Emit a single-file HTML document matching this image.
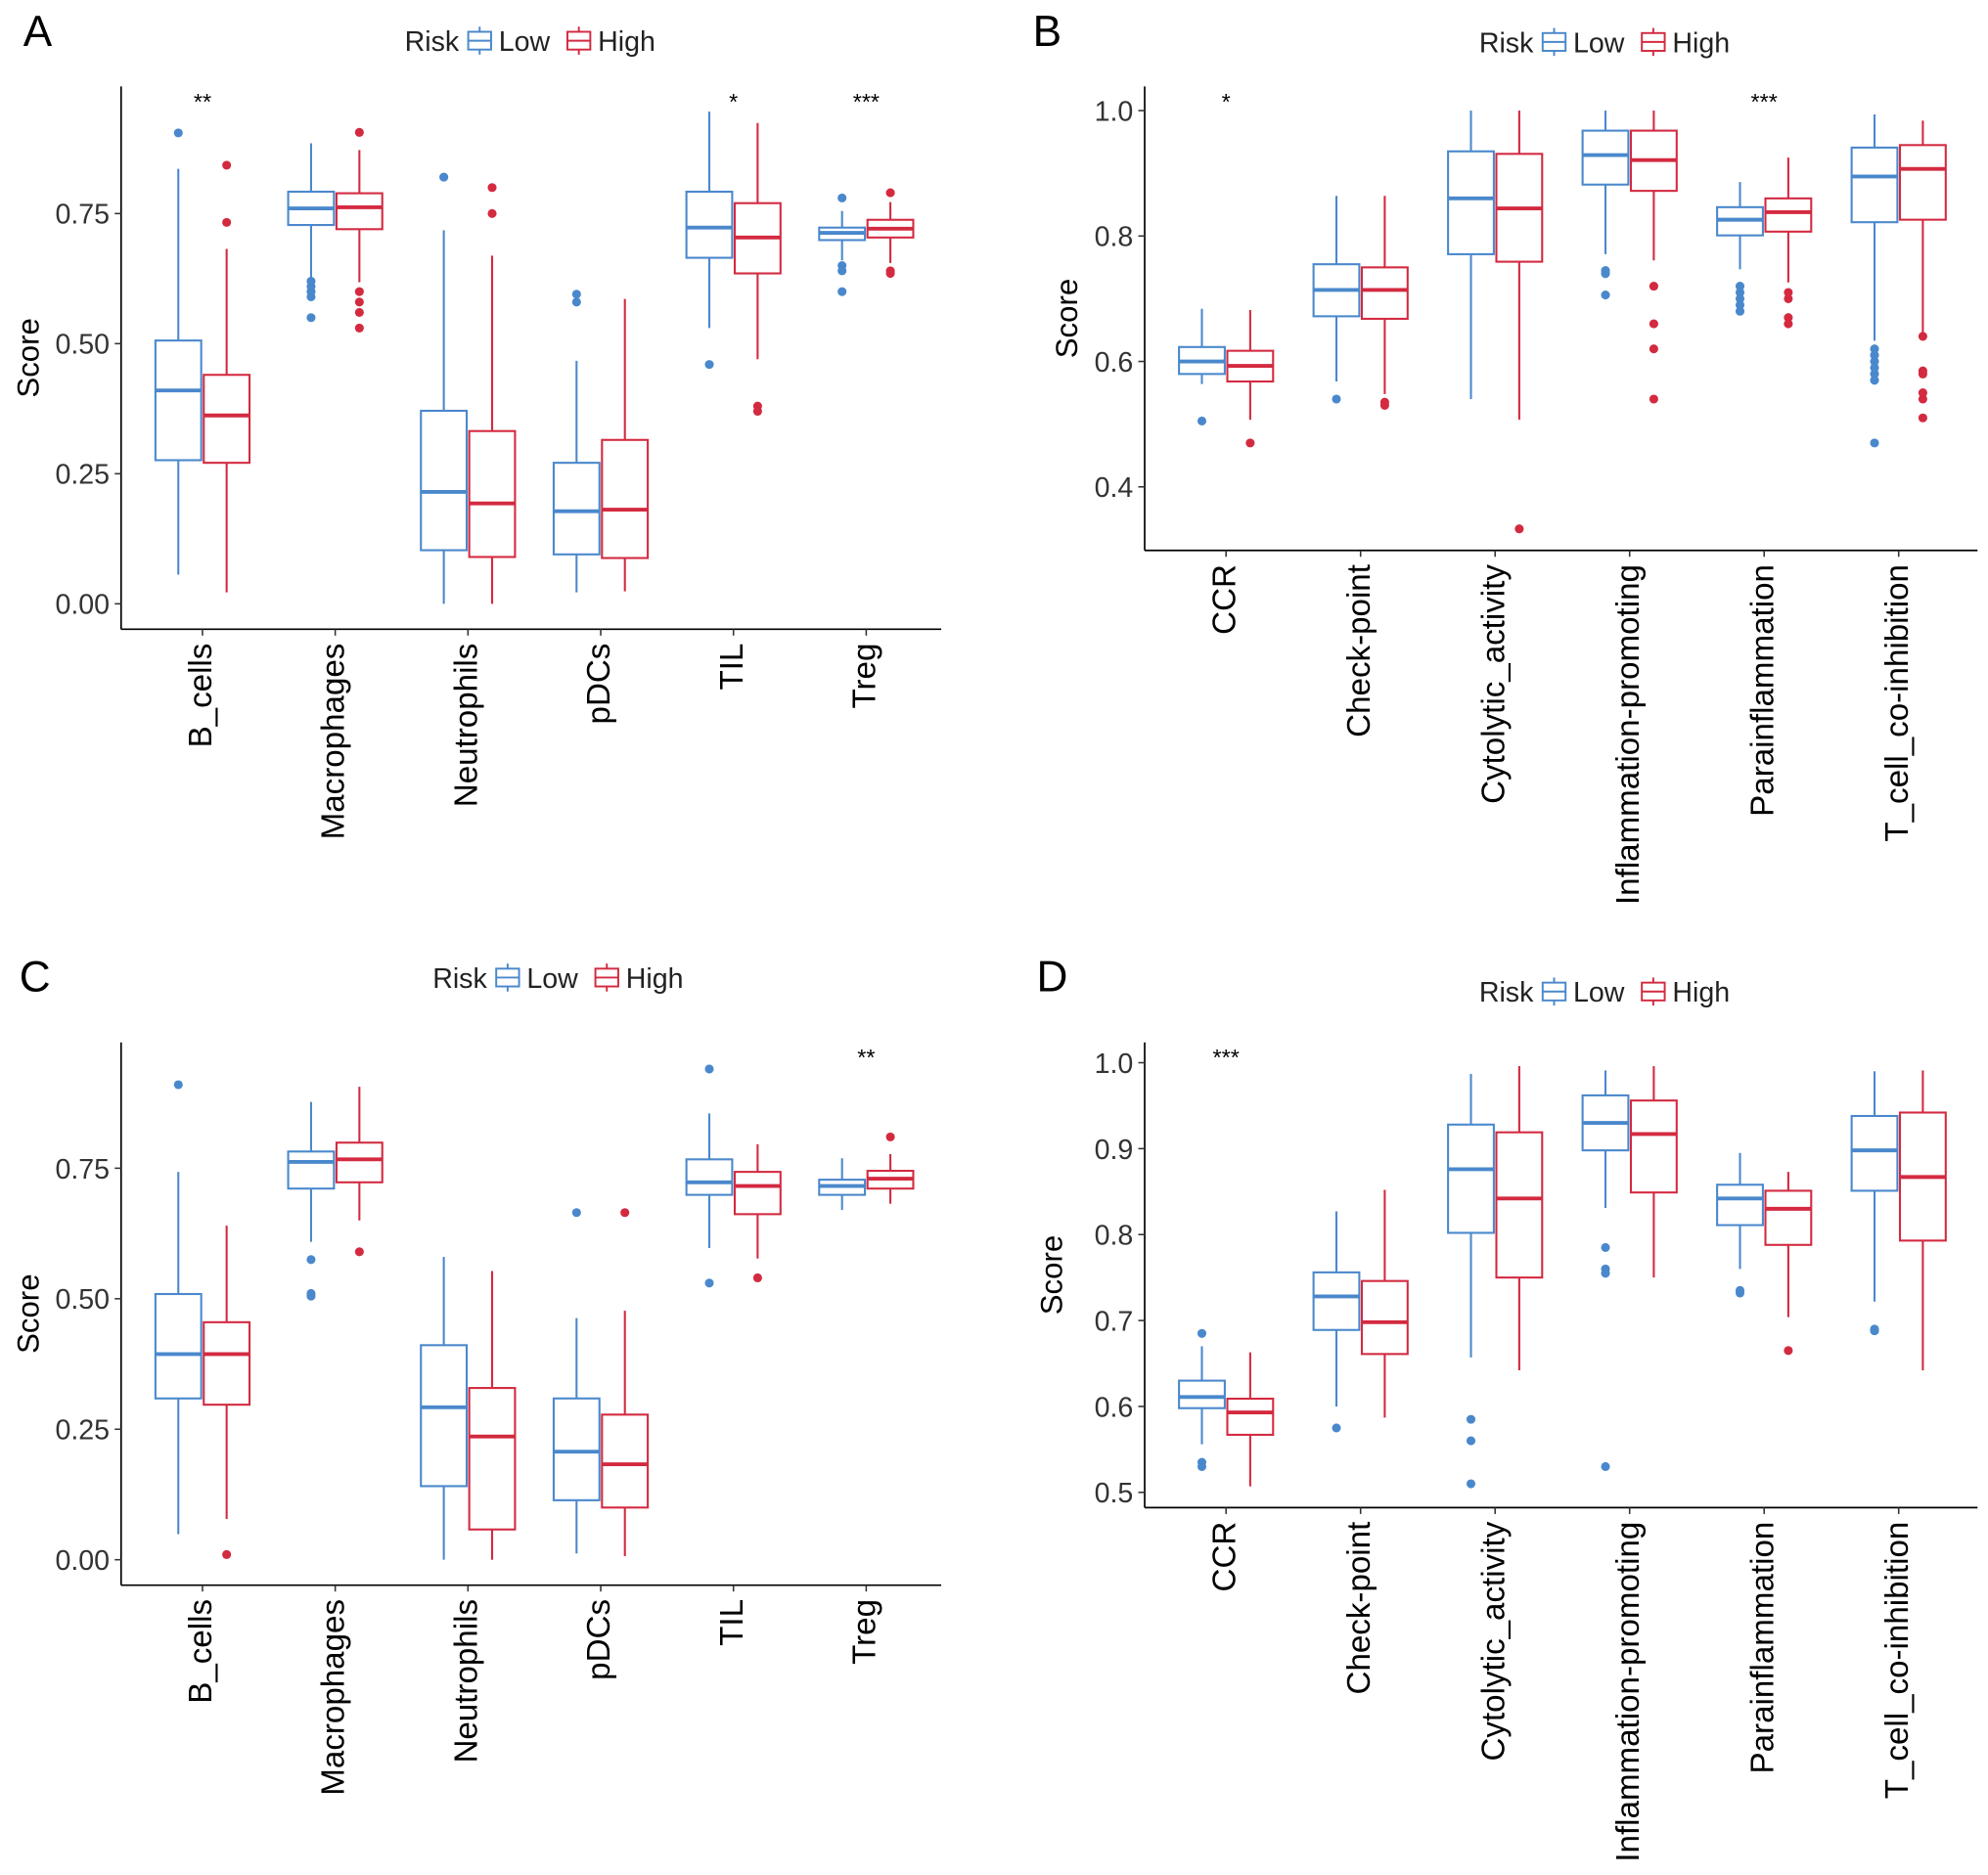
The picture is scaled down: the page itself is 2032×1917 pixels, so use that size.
<!DOCTYPE html>
<html><head><meta charset="utf-8">
<style>
html,body{margin:0;padding:0;background:#fff;}
svg{display:block;font-family:"Liberation Sans",Arial,sans-serif;}
</style></head>
<body>
<svg id="fig" width="2032" height="1917" viewBox="0 0 1563 1475" xmlns="http://www.w3.org/2000/svg"></svg>
<script>
// ---------- Panel A data ----------
const catsA = ["B_cells","Macrophages","Neutrophils","pDCs","TIL","Treg"];
const lowMinA = [0.056,0.623,0.0,0.022,0.53,0.66];
const lowQ1A  = [0.276,0.728,0.103,0.095,0.665,0.699];
const lowMedA = [0.41,0.76,0.215,0.178,0.723,0.713];
const lowQ3A  = [0.506,0.792,0.371,0.271,0.792,0.723];
const lowMaxA = [0.836,0.885,0.718,0.467,0.946,0.755];
const lowOutA = [[0.905],[0.62,0.61,0.60,0.59,0.55],[0.82],[0.58,0.595],[0.46],[0.60,0.64,0.65,0.78]];
const highMinA = [0.022,0.618,0.0,0.024,0.47,0.655];
const highQ1A  = [0.271,0.72,0.09,0.088,0.635,0.704];
const highMedA = [0.362,0.762,0.193,0.181,0.704,0.721];
const highQ3A  = [0.44,0.789,0.332,0.315,0.77,0.738];
const highMaxA = [0.682,0.872,0.669,0.586,0.924,0.772];
const highOutA = [[0.733,0.843],[0.906,0.60,0.58,0.56,0.53],[0.75,0.80],[],[0.38,0.37],[0.79,0.64,0.635]];
const sigA = ["**","","","","*","***"];
const ticksA = [0,0.25,0.5,0.75];
const tickLabA = ["0.00","0.25","0.50","0.75"];

// ---------- Panel B data ----------
const catsB = ["CCR","Check-point","Cytolytic_activity","Inflammation-promoting","Parainflammation","T_cell_co-inhibition"];
const lowMinB = [0.564,0.568,0.54,0.771,0.747,0.633];
const lowQ1B  = [0.58,0.672,0.771,0.882,0.801,0.822];
const lowMedB = [0.60,0.714,0.86,0.929,0.826,0.895];
const lowQ3B  = [0.623,0.755,0.935,0.968,0.846,0.941];
const lowMaxB = [0.684,0.864,1.0,1.0,0.886,0.994];
const lowOutB = [[0.505],[0.54],[],[0.745,0.74,0.706],[0.72,0.71,0.70,0.69,0.68],[0.62,0.61,0.60,0.59,0.58,0.57,0.47]];
const highMinB = [0.507,0.548,0.507,0.761,0.726,0.643];
const highQ1B  = [0.568,0.668,0.759,0.872,0.807,0.826];
const highMedB = [0.593,0.714,0.844,0.921,0.838,0.907];
const highQ3B  = [0.617,0.75,0.931,0.968,0.86,0.945];
const highMaxB = [0.682,0.864,1.0,1.0,0.925,0.984];
const highOutB = [[0.47],[0.53,0.535],[0.333],[0.72,0.66,0.62,0.54],[0.71,0.70,0.67,0.66],[0.64,0.585,0.58,0.55,0.54,0.51]];
const sigB = ["*","","","","***",""];
const ticksB = [0.4,0.6,0.8,1.0];
const tickLabB = ["0.4","0.6","0.8","1.0"];

// ---------- Panel C data ----------
const catsC = catsA;
const lowMinC = [0.049,0.609,0.0,0.012,0.597,0.67];
const lowQ1C  = [0.309,0.711,0.141,0.114,0.699,0.699];
const lowMedC = [0.394,0.762,0.292,0.207,0.723,0.716];
const lowQ3C  = [0.509,0.782,0.411,0.309,0.767,0.728];
const lowMaxC = [0.743,0.877,0.58,0.463,0.855,0.769];
const lowOutC = [[0.91],[0.575,0.51,0.505],[],[0.665],[0.94,0.53],[]];
const highMinC = [0.078,0.65,0.0,0.007,0.577,0.682];
const highQ1C  = [0.297,0.723,0.058,0.1,0.662,0.711];
const highMedC = [0.394,0.767,0.236,0.183,0.716,0.73];
const highQ3C  = [0.455,0.799,0.329,0.278,0.743,0.745];
const highMaxC = [0.64,0.906,0.553,0.477,0.796,0.777];
const highOutC = [[0.01],[0.59],[],[0.665],[0.54],[0.81]];
const sigC = ["","","","","","**"];
const ticksC = ticksA, tickLabC = tickLabA;

// ---------- Panel D data ----------
const catsD = catsB;
const lowMinD = [0.556,0.6,0.657,0.831,0.76,0.722];
const lowQ1D  = [0.598,0.689,0.802,0.898,0.811,0.851];
const lowMedD = [0.611,0.728,0.876,0.93,0.842,0.898];
const lowQ3D  = [0.63,0.756,0.928,0.962,0.858,0.938];
const lowMaxD = [0.67,0.827,0.987,0.991,0.895,0.99];
const lowOutD = [[0.685,0.535,0.53],[0.575],[0.585,0.56,0.51],[0.785,0.76,0.755,0.53],[0.735,0.732],[0.69,0.688]];
const highMinD = [0.507,0.587,0.642,0.75,0.704,0.642];
const highQ1D  = [0.567,0.661,0.75,0.849,0.788,0.793];
const highMedD = [0.593,0.698,0.842,0.917,0.83,0.867];
const highQ3D  = [0.609,0.746,0.919,0.956,0.851,0.942];
const highMaxD = [0.663,0.852,0.996,0.996,0.873,0.991];
const highOutD = [[],[],[],[],[0.665],[]];
const sigD = ["***","","","","",""];
const ticksD = [0.5,0.6,0.7,0.8,0.9,1.0];
const tickLabD = ["0.5","0.6","0.7","0.8","0.9","1.0"];

const BLUE = "#4a88cc", RED = "#d32a40";
const NS = "http://www.w3.org/2000/svg";
const svg = document.getElementById("fig");
function mk(tag, attrs, parent, text){
  const e = document.createElementNS(NS, tag);
  for (const k in attrs) e.setAttribute(k, attrs[k]);
  if (text !== undefined) e.textContent = text;
  (parent || svg).appendChild(e);
  return e;
}

function panel(cfg){
  const g = mk("g", {});
  
  
  const yScale = v => cfg.y0pix + (v - cfg.v0) * (cfg.y1pix - cfg.y0pix) / (cfg.v1 - cfg.v0);
  const xCat = i => cfg.xFirst + i * cfg.xStep;
  const L = mk("text", {x:cfg.lx, y:cfg.ly, "font-size":34, fill:"#000"}, g, cfg.letter);
  
  
  const lg = mk("g", {}, g);
  
  
  const t1 = mk("text", {x:cfg.legX, y:cfg.legY, "font-size":22, fill:"#222"}, lg, "Risk");
  
  
  const keys = [["Low",BLUE,cfg.legX+50],["High",RED,cfg.legX+128]];
  keys.forEach(k=>{
    const kg = mk("g", {}, lg);
    
    
    const kx = k[2], ky = cfg.legY - 8;
    mk("line", {x1:kx+9, x2:kx+9, y1:ky-11, y2:ky+11, stroke:k[1], "stroke-width":1.5}, kg);
    mk("rect", {x:kx, y:ky-7, width:18, height:14, fill:"#fff", stroke:k[1], "stroke-width":1.5}, kg);
    mk("line", {x1:kx, x2:kx+18, y1:ky, y2:ky, stroke:k[1], "stroke-width":1.5}, kg);
    mk("text", {x:kx+24, y:cfg.legY, "font-size":22, fill:"#222"}, kg, k[0]);
  });
  const ax = mk("line", {x1:cfg.axL, x2:cfg.axL, y1:cfg.axT, y2:cfg.axB, stroke:"#000", "stroke-width":1.3}, g);
  
  
  const bx = mk("line", {x1:cfg.axL, x2:cfg.axR, y1:cfg.axB, y2:cfg.axB, stroke:"#000", "stroke-width":1.3}, g);
  
  
  cfg.ticks.forEach((t,i)=>{
    const y = yScale(t);
    mk("line", {x1:cfg.axL-5, x2:cfg.axL, y1:y, y2:y, stroke:"#333", "stroke-width":1.2}, g);
    const tl = mk("text", {x:cfg.axL-9, y:y+8, "font-size":22, fill:"#333", "text-anchor":"end"}, g, cfg.tickLab[i]);
    
    
  });
  const yt = mk("text", {x:0, y:0, "font-size":24, fill:"#000", "text-anchor":"middle", transform:`translate(${cfg.titleX},${(cfg.axT+cfg.axB)/2}) rotate(-90)`}, g, "Score");
  
  
  cfg.cats.forEach((c,i)=>{
    const x = xCat(i);
    mk("line", {x1:x, x2:x, y1:cfg.axB, y2:cfg.axB+5, stroke:"#333", "stroke-width":1.2}, g);
    const cl = mk("text", {x:0, y:0, "font-size":25.5, fill:"#000", "text-anchor":"end", transform:`translate(${x+7},${cfg.axB+11}) rotate(-90)`}, g, c);
    
    
    if (cfg.sig[i]) {
      const s = mk("text", {x:x, y:cfg.axT+18, "font-size":18, fill:"#000", "text-anchor":"middle"}, g, cfg.sig[i]);
      
      
    }
    [["low",BLUE,-19,cfg.low],["high",RED,19,cfg.high]].forEach(s=>{
      const d = s[3], bxc = x + s[2], w = 36;
      const bg = mk("g", {}, g);
      
      
      mk("line", {x1:bxc, x2:bxc, y1:yScale(d.max[i]), y2:yScale(d.q3[i]), stroke:s[1], "stroke-width":1.6}, bg);
      mk("line", {x1:bxc, x2:bxc, y1:yScale(d.q1[i]), y2:yScale(d.min[i]), stroke:s[1], "stroke-width":1.6}, bg);
      mk("rect", {x:bxc-w/2, y:yScale(d.q3[i]), width:w, height:yScale(d.q1[i])-yScale(d.q3[i]), fill:"#fff", stroke:s[1], "stroke-width":1.6}, bg);
      mk("line", {x1:bxc-w/2, x2:bxc+w/2, y1:yScale(d.med[i]), y2:yScale(d.med[i]), stroke:s[1], "stroke-width":3}, bg);
      d.out[i].forEach(o=>{
        const p = mk("circle", {cx:bxc, cy:yScale(o), r:3.5, fill:s[1]}, bg);
        
        
      });
    });
  });
}

panel({letter:"A", lx:18, ly:36, legX:318, legY:40,
  axL:95, axR:740, axT:68, axB:495, titleX:30,
  v0:0, v1:0.75, y0pix:475, y1pix:168, xFirst:159, xStep:104.4,
  cats:catsA, ticks:ticksA, tickLab:tickLabA, sig:sigA,
  low:{min:lowMinA,q1:lowQ1A,med:lowMedA,q3:lowQ3A,max:lowMaxA,out:lowOutA},
  high:{min:highMinA,q1:highQ1A,med:highMedA,q3:highQ3A,max:highMaxA,out:highOutA}});
panel({letter:"B", lx:812, ly:36, legX:1163, legY:41,
  axL:900, axR:1555, axT:68, axB:433, titleX:847,
  v0:0.4, v1:1.0, y0pix:383, y1pix:87, xFirst:964, xStep:105.8,
  cats:catsB, ticks:ticksB, tickLab:tickLabB, sig:sigB,
  low:{min:lowMinB,q1:lowQ1B,med:lowMedB,q3:lowQ3B,max:lowMaxB,out:lowOutB},
  high:{min:highMinB,q1:highQ1B,med:highMedB,q3:highQ3B,max:highMaxB,out:highOutB}});
panel({letter:"C", lx:15, ly:780, legX:340, legY:777,
  axL:95, axR:740, axT:820, axB:1247, titleX:30,
  v0:0, v1:0.75, y0pix:1227, y1pix:919, xFirst:159, xStep:104.4,
  cats:catsC, ticks:ticksC, tickLab:tickLabC, sig:sigC,
  low:{min:lowMinC,q1:lowQ1C,med:lowMedC,q3:lowQ3C,max:lowMaxC,out:lowOutC},
  high:{min:highMinC,q1:highQ1C,med:highMedC,q3:highQ3C,max:highMaxC,out:highOutC}});
panel({letter:"D", lx:815, ly:780, legX:1163, legY:788,
  axL:900, axR:1555, axT:820, axB:1186, titleX:835,
  v0:0.5, v1:1.0, y0pix:1174, y1pix:836, xFirst:964, xStep:105.8,
  cats:catsD, ticks:ticksD, tickLab:tickLabD, sig:sigD,
  low:{min:lowMinD,q1:lowQ1D,med:lowMedD,q3:lowQ3D,max:lowMaxD,out:lowOutD},
  high:{min:highMinD,q1:highQ1D,med:highMedD,q3:highQ3D,max:highMaxD,out:highOutD}});
</script>
</body></html>
